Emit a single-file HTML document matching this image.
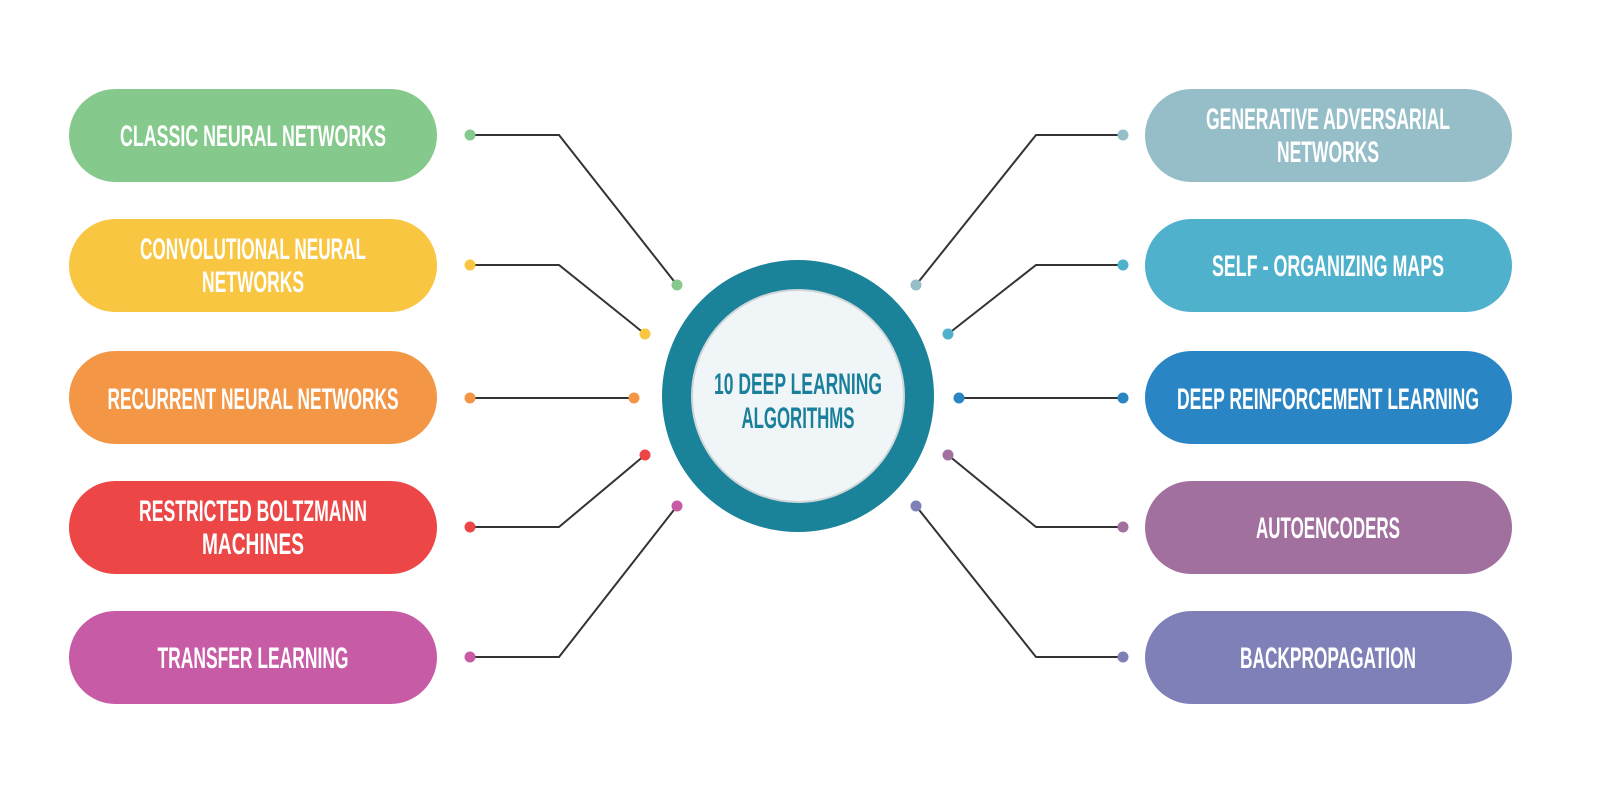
<!DOCTYPE html>
<html><head><meta charset="utf-8"><style>html,body{margin:0;padding:0;background:#fff}svg{display:block}</style></head>
<body>
<svg width="1600" height="795" viewBox="0 0 1600 795" xmlns="http://www.w3.org/2000/svg" font-family="'Liberation Sans', sans-serif" font-weight="bold">
<rect width="1600" height="795" fill="#fff"/>
<g stroke="#333" stroke-width="2" fill="none">
<polyline points="470,135 559,135 677,285"/>
<polyline points="470,265 559,265 645,334"/>
<polyline points="470,398 634,398"/>
<polyline points="470,527 559,527 645,455"/>
<polyline points="470,657 559,657 677,506"/>
<polyline points="1123,135 1036,135 916,285"/>
<polyline points="1123,265 1036,265 948,334"/>
<polyline points="1123,398 959,398"/>
<polyline points="1123,527 1036,527 948,455"/>
<polyline points="1123,657 1036,657 916,506"/>
</g>
<g>
<circle cx="470" cy="135" r="5.5" fill="#85c98c"/><circle cx="677" cy="285" r="5.5" fill="#85c98c"/>
<circle cx="470" cy="265" r="5.5" fill="#f9c642"/><circle cx="645" cy="334" r="5.5" fill="#f9c642"/>
<circle cx="470" cy="398" r="5.5" fill="#f39646"/><circle cx="634" cy="398" r="5.5" fill="#f39646"/>
<circle cx="470" cy="527" r="5.5" fill="#ec4646"/><circle cx="645" cy="455" r="5.5" fill="#ec4646"/>
<circle cx="470" cy="657" r="5.5" fill="#c85ba5"/><circle cx="677" cy="506" r="5.5" fill="#c85ba5"/>
<circle cx="1123" cy="135" r="5.5" fill="#96bec8"/><circle cx="916" cy="285" r="5.5" fill="#96bec8"/>
<circle cx="1123" cy="265" r="5.5" fill="#50b1cc"/><circle cx="948" cy="334" r="5.5" fill="#50b1cc"/>
<circle cx="1123" cy="398" r="5.5" fill="#2a85c4"/><circle cx="959" cy="398" r="5.5" fill="#2a85c4"/>
<circle cx="1123" cy="527" r="5.5" fill="#a2709f"/><circle cx="948" cy="455" r="5.5" fill="#a2709f"/>
<circle cx="1123" cy="657" r="5.5" fill="#8080b8"/><circle cx="916" cy="506" r="5.5" fill="#8080b8"/>
</g>
<circle cx="798" cy="396" r="136" fill="#1a8299"/>
<circle cx="798" cy="396" r="106" fill="#f0f5f8" stroke="#cfd6da" stroke-width="2"/>
<g fill="#1a7f9a" font-size="30" text-anchor="middle">
<text x="798" y="394" textLength="168" lengthAdjust="spacingAndGlyphs">10 DEEP LEARNING</text>
<text x="798" y="428" textLength="113" lengthAdjust="spacingAndGlyphs">ALGORITHMS</text>
</g>
<g>
<rect x="69" y="89" width="368" height="93" rx="46.5" fill="#85c98c"/>
<rect x="69" y="219" width="368" height="93" rx="46.5" fill="#f9c642"/>
<rect x="69" y="351" width="368" height="93" rx="46.5" fill="#f39646"/>
<rect x="69" y="481" width="368" height="93" rx="46.5" fill="#ec4646"/>
<rect x="69" y="611" width="368" height="93" rx="46.5" fill="#c85ba5"/>
<rect x="1145" y="89" width="367" height="93" rx="46.5" fill="#96bec8"/>
<rect x="1145" y="219" width="367" height="93" rx="46.5" fill="#50b1cc"/>
<rect x="1145" y="351" width="367" height="93" rx="46.5" fill="#2a85c4"/>
<rect x="1145" y="481" width="367" height="93" rx="46.5" fill="#a2709f"/>
<rect x="1145" y="611" width="367" height="93" rx="46.5" fill="#8080b8"/>
</g>
<g fill="#fff" font-size="30" text-anchor="middle">
<text x="253" y="146" textLength="266" lengthAdjust="spacingAndGlyphs">CLASSIC  NEURAL NETWORKS</text>
<text x="253" y="259" textLength="226" lengthAdjust="spacingAndGlyphs">CONVOLUTIONAL NEURAL</text>
<text x="253" y="292" textLength="102" lengthAdjust="spacingAndGlyphs">NETWORKS</text>
<text x="253" y="409" textLength="291" lengthAdjust="spacingAndGlyphs">RECURRENT NEURAL NETWORKS</text>
<text x="253" y="521" textLength="228" lengthAdjust="spacingAndGlyphs">RESTRICTED BOLTZMANN</text>
<text x="253" y="554" textLength="102" lengthAdjust="spacingAndGlyphs">MACHINES</text>
<text x="253" y="668" textLength="191" lengthAdjust="spacingAndGlyphs">TRANSFER LEARNING</text>
<text x="1328" y="129" textLength="244" lengthAdjust="spacingAndGlyphs">GENERATIVE ADVERSARIAL</text>
<text x="1328" y="162" textLength="102" lengthAdjust="spacingAndGlyphs">NETWORKS</text>
<text x="1328" y="276" textLength="232" lengthAdjust="spacingAndGlyphs">SELF - ORGANIZING MAPS</text>
<text x="1328" y="409" textLength="302" lengthAdjust="spacingAndGlyphs">DEEP REINFORCEMENT LEARNING</text>
<text x="1328" y="538" textLength="144" lengthAdjust="spacingAndGlyphs">AUTOENCODERS</text>
<text x="1328" y="668" textLength="176" lengthAdjust="spacingAndGlyphs">BACKPROPAGATION</text>
</g>
</svg>
</body></html>
